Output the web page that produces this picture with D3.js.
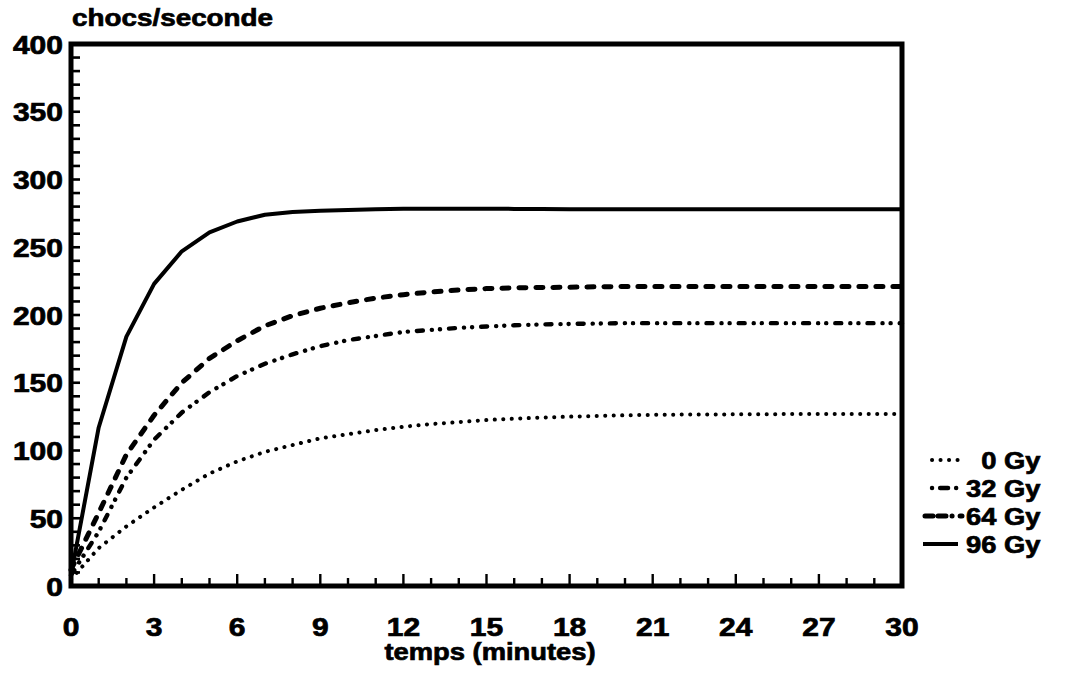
<!DOCTYPE html>
<html>
<head>
<meta charset="utf-8">
<script src="https://cdn.jsdelivr.net/npm/d3@7"></script>
<style>
  html, body { margin: 0; padding: 0; background: #fff; }
  svg { display: block; }
  text { font-family: "Liberation Sans", Arial, Helvetica, sans-serif; font-weight: bold; fill: #000; stroke: #000; stroke-width: 0.7px; }
</style>
</head>
<body>
<svg id="chart" width="1068" height="681"></svg>
<script>
// ---- data ----
const times = d3.range(0, 31); // minutes 0..30
const series0Gy  = [5, 28, 44, 58, 71, 83, 92, 99, 104, 109, 112, 115, 117.5, 119.5, 121, 122.5, 123.5, 124.3, 125, 125.5, 126, 126.3, 126.5, 126.6, 126.7, 126.8, 126.9, 127, 127, 127, 127];
const series32Gy = [8, 40, 80, 108, 128, 143, 155, 164, 171, 177, 181.5, 184.5, 187.5, 189, 190.5, 191.5, 192.4, 193, 193.4, 193.7, 194, 194, 194, 194, 194, 194, 194, 194, 194, 194, 194];
const series64Gy = [12, 54, 97, 126, 150, 168, 181, 192, 199.5, 205, 209, 212.5, 215, 217, 218.5, 219.5, 220, 220.3, 220.5, 220.8, 221, 221, 221, 221, 221, 221, 221, 221, 221, 221, 221];
const series96Gy = [8, 117, 184, 223, 247, 261, 269, 274, 276, 277, 277.5, 278, 278.5, 278.5, 278.5, 278.5, 278.3, 278.2, 278, 278, 278, 278, 278, 278, 278, 278, 278, 278, 278, 278, 278];
const seriesNames = ["0 Gy", "32 Gy", "64 Gy", "96 Gy"];
const xTickLabels = [0, 3, 6, 9, 12, 15, 18, 21, 24, 27, 30];
const yTickLabels = [0, 50, 100, 150, 200, 250, 300, 350, 400];
const yAxisTitle = "chocs/seconde";
const xAxisTitle = "temps (minutes)";

// ---- layout ----
const svg = d3.select("#chart");
const X0 = 71, X1 = 902, Y0 = 586, Y1 = 44;
const x = d3.scaleLinear().domain([0, 30]).range([X0, X1]);
const y = d3.scaleLinear().domain([0, 400]).range([Y0, Y1]);

const styles = [
  { width: 4, dash: "0.1 8.4", cap: "round" },
  { width: 4.4, dash: "6 9 0.1 8 0.1 9", cap: "round" },
  { width: 5, dash: "7 10", cap: "round" },
  { width: 4, dash: null, cap: "butt" }
];
const allSeries = [series0Gy, series32Gy, series64Gy, series96Gy];

// ticks (inside)
const g = svg.append("g");
const yMinor = d3.range(10, 400, 10);
g.selectAll("line.yt").data(yMinor).enter().append("line")
  .attr("x1", X0).attr("x2", X0 + 9)
  .attr("y1", d => y(d)).attr("y2", d => y(d))
  .attr("stroke", "#000").attr("stroke-width", 2.6);
const xMinor = d3.range(1, 30, 1);
g.selectAll("line.xt").data(xMinor).enter().append("line")
  .attr("x1", d => x(d)).attr("x2", d => x(d))
  .attr("y1", Y0).attr("y2", d => Y0 - (d % 3 === 0 ? 12 : 8))
  .attr("stroke", "#000").attr("stroke-width", 2.4);

// series lines
const line = d3.line().x((d, i) => x(times[i])).y(d => y(d)).curve(d3.curveLinear);
allSeries.forEach((s, k) => {
  const st = styles[k];
  const p = svg.append("path").datum(s)
    .attr("d", line)
    .attr("fill", "none")
    .attr("stroke", "#000")
    .attr("stroke-width", st.width)
    .attr("stroke-linecap", st.cap)
    .attr("stroke-linejoin", "round");
  if (st.dash) p.attr("stroke-dasharray", st.dash);
});

// frame
svg.append("rect")
  .attr("x", X0).attr("y", Y1)
  .attr("width", X1 - X0).attr("height", Y0 - Y1)
  .attr("fill", "none").attr("stroke", "#000").attr("stroke-width", 5);

// text helper: horizontally stretched bold text
function stext(str, tx, ty, size, anchor, sx) {
  return svg.append("text")
    .attr("transform", `translate(${tx},${ty}) scale(${sx},1)`)
    .attr("text-anchor", anchor)
    .attr("dominant-baseline", "central")
    .attr("font-size", size)
    .text(str);
}

// y tick labels
yTickLabels.forEach(v => stext(String(v), X0 - 8, y(v) + 1, 25, "end", 1.2));
// x tick labels
xTickLabels.forEach(v => stext(String(v), x(v), 627, 25, "middle", 1.2));
// axis titles
stext(yAxisTitle, 72, 18, 24, "start", 1.16);
stext(xAxisTitle, 490, 652, 24, "middle", 1.14);

// legend
const legY = [460, 488, 516, 544];
const legSample = [[932, 962], [932, 962], [925, 962], [923, 958]];
seriesNames.forEach((name, k) => {
  const st = styles[k];
  const ly = legY[k];
  const p = svg.append("line")
    .attr("x1", legSample[k][0]).attr("x2", legSample[k][1])
    .attr("y1", ly).attr("y2", ly)
    .attr("stroke", "#000").attr("stroke-width", st.width)
    .attr("stroke-linecap", st.cap);
  if (k === 1) p.attr("stroke-dasharray", "0.1 8 8 8 0.1 8");
  else if (k === 2) p.attr("stroke-dasharray", "8 5 8 6 0.1 8");
  else if (st.dash) p.attr("stroke-dasharray", st.dash);
  const label = name.length < 5 ? "\u2007" + name : name;
  stext(label, 966, ly + 1, 24, "start", 1.14).attr("xml:space", "preserve");
});
</script>
</body>
</html>
